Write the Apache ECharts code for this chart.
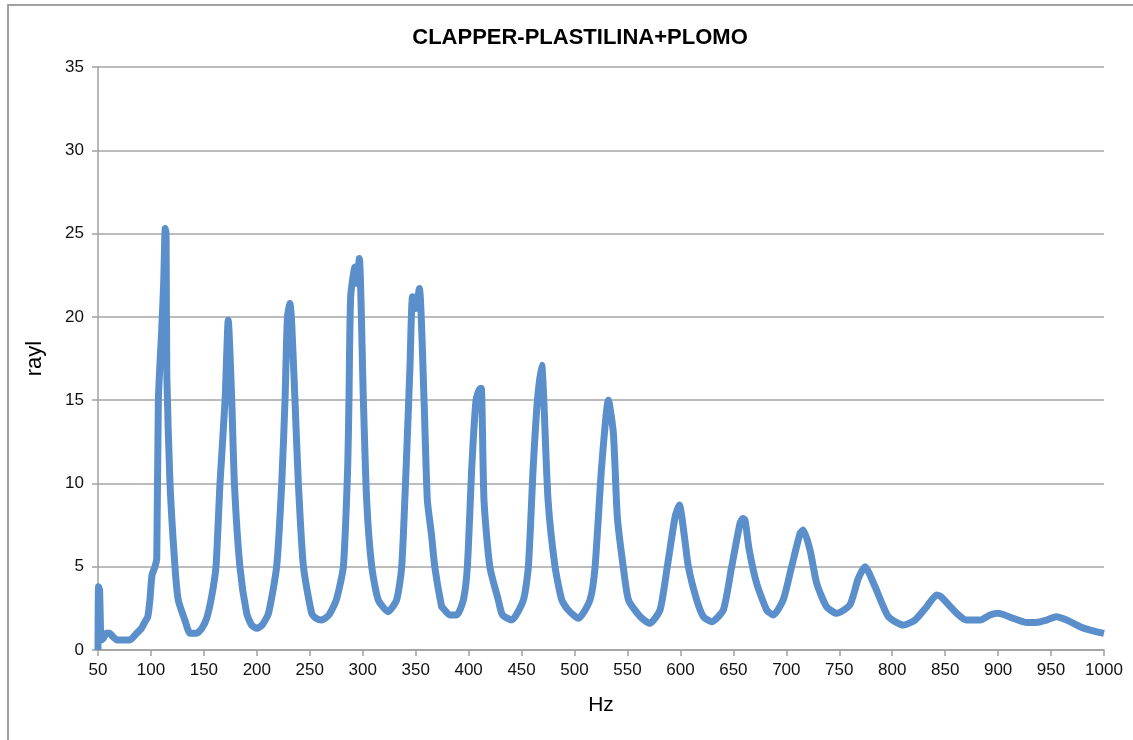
<!DOCTYPE html>
<html>
<head>
<meta charset="utf-8">
<script src="https://cdn.jsdelivr.net/npm/echarts@6/dist/echarts.min.js"></script>
<style>
  html, body { margin: 0; padding: 0; background: #fff; }
  #chart { width: 1133px; height: 740px; }
</style>
</head>
<body>
<div id="chart"></div>
<script>
const titleText = 'CLAPPER-PLASTILINA+PLOMO'
const xName = 'Hz'
const yName = 'rayl'

// frequency (Hz) and impedance (rayl)
const hz = [
  50, 50.5, 51.5, 53, 55, 58, 61, 64, 68, 80, 86.5, 91, 94.4, 97, 99, 101, 103.8, 105.5, 107, 110,
  112, 113.5, 114.3, 115, 118, 122.7, 125.8, 132, 137, 143, 148, 152.6, 157.3, 161.4, 165.2, 170, 173, 176.3, 178.8, 184,
  190.4, 195, 200, 205, 211, 218.7, 223.5, 226.6, 228.9, 231.3, 233, 236, 239.2, 244, 251.8, 256, 261, 268, 275, 281.7,
  285.8, 287, 288.6, 292.7, 294.5, 296.8, 300.6, 303.7, 308.5, 314.7, 324, 332, 336.8, 341, 344.6, 347, 350, 353.5, 357.9, 361,
  364.8, 368, 374.5, 376, 382, 388.7, 395, 398.8, 403, 407, 410.8, 412, 414.5, 420, 428, 432, 440.7, 451.7, 456.4, 461,
  465, 469, 471, 475, 481.6, 488, 494, 503.6, 514.6, 519.4, 525.6, 532, 536.7, 540.4, 546, 551, 562, 571, 580.7, 587.6,
  595, 599, 603.4, 607.5, 615.4, 621.7, 629.5, 640.5, 648.4, 656.3, 659, 661, 665, 672, 681.5, 687.7, 697, 705, 713, 716,
  722.4, 728.7, 738, 747.6, 760, 768, 774.3, 783.8, 796.4, 810.5, 821.6, 832.6, 842, 846, 861, 870, 883, 892.4, 900, 914.5,
  927, 936, 946, 955, 964.8, 977.4, 987, 1000
]
const rayl = [
  0, 3.8, 3.6, 0.6, 0.7, 1.0, 1.0, 0.8, 0.6, 0.6, 1.0, 1.3, 1.7, 2.0, 3.0, 4.5, 5.0, 5.5, 15, 19,
  22, 25.3, 25, 16.5, 10, 5, 3, 1.8, 1.0, 1.0, 1.3, 1.9, 3.2, 5, 10, 15, 19.8, 15, 10, 5,
  2.2, 1.5, 1.3, 1.5, 2.2, 5, 10, 15, 20, 20.8, 19.5, 15, 10, 5, 2.2, 1.9, 1.8, 2.1, 3, 5,
  11, 15, 21.2, 23, 22, 23.5, 15, 9, 5, 3, 2.3, 3, 5, 11, 17, 21.2, 20.5, 21.7, 15, 9,
  7, 5, 2.6, 2.5, 2.1, 2.1, 3, 5, 11, 15, 15.7, 15.7, 9, 5, 3, 2.1, 1.8, 3, 5, 11,
  15, 17.1, 15, 9, 5, 3, 2.4, 1.9, 3, 5, 11, 15.0, 13, 8, 5, 3, 2.0, 1.6, 2.4, 5,
  8.0, 8.7, 7, 5, 3, 2.0, 1.7, 2.4, 5, 7.6, 7.9, 7.8, 6, 4, 2.4, 2.1, 3, 5, 7, 7.2,
  6, 4, 2.6, 2.2, 2.7, 4.3, 5.0, 3.8, 2.0, 1.5, 1.8, 2.6, 3.3, 3.2, 2.2, 1.8, 1.8, 2.1, 2.2, 1.9,
  1.65, 1.65, 1.8, 2.0, 1.8, 1.4, 1.2, 1.0
]

const chart = echarts.init(document.getElementById('chart'), null, { renderer: 'canvas' })
const font = 'Liberation Sans, Arial, sans-serif'

chart.setOption({
  backgroundColor: '#fff',
  animation: false,
  title: {
    text: titleText,
    left: 575,
    textAlign: 'center',
    top: 22,
    textStyle: { fontFamily: font, fontSize: 22, fontWeight: 'bold', color: '#000' }
  },
  graphic: [{
    type: 'rect',
    shape: { x: 8, y: 5, width: 1200, height: 800 },
    style: { fill: 'none', stroke: '#a0a0a0', lineWidth: 2 },
    silent: true
  }],
  grid: { left: 98, right: 29, top: 67, bottom: 90 },
  xAxis: {
    type: 'value',
    min: 50,
    max: 1000,
    interval: 50,
    name: xName,
    nameLocation: 'middle',
    nameGap: 45,
    nameTextStyle: { fontFamily: font, fontSize: 21, color: '#000' },
    axisLine: { lineStyle: { color: '#a0a0a0', width: 1.5 } },
    axisTick: { show: true, length: 6, lineStyle: { color: '#a0a0a0', width: 1.5 } },
    axisLabel: { fontFamily: font, fontSize: 17, color: '#111', margin: 12, formatter: (v) => String(v) },
    splitLine: { show: false }
  },
  yAxis: {
    type: 'value',
    min: 0,
    max: 35,
    interval: 5,
    name: yName,
    nameLocation: 'middle',
    nameGap: 52,
    nameTextStyle: { fontFamily: font, fontSize: 22, color: '#000' },
    axisLine: { show: true, lineStyle: { color: '#a0a0a0', width: 1.5 } },
    axisTick: { show: true, length: 6, lineStyle: { color: '#a0a0a0', width: 1.5 } },
    axisLabel: { fontFamily: font, fontSize: 17, color: '#111', margin: 14 },
    splitLine: { lineStyle: { color: '#a6a6a6', width: 1.5 } }
  },
  series: [{
    type: 'line',
    data: hz.map((h, i) => [h, rayl[i]]),
    symbol: 'none',
    smooth: 0.2,
    lineStyle: { color: '#5B8FCB', width: 7 },
    itemStyle: { color: '#5B8FCB' }
  }]
})
</script>
</body>
</html>
